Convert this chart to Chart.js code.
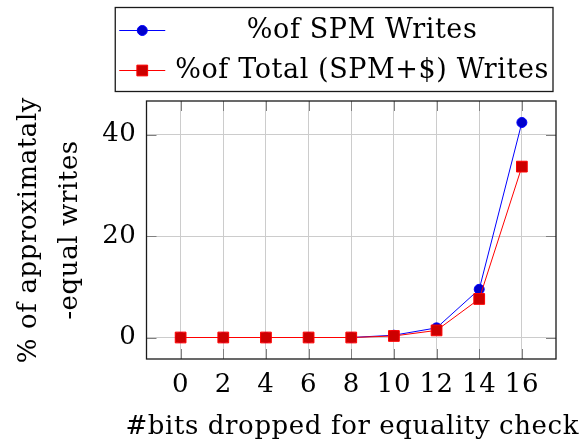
<!DOCTYPE html>
<html>
<head>
<meta charset="utf-8">
<script src="https://cdn.jsdelivr.net/npm/chart.js@4"></script>
<style>
  html, body { margin: 0; padding: 0; background: #fff; }
  canvas { display: block; }
</style>
</head>
<body>
<canvas id="bits_chart" width="579" height="445"></canvas>
<script>
const BITS = [0, 2, 4, 6, 8, 10, 12, 14, 16];
const SPM_WRITES = [0, 0, 0, 0, 0, 0.45, 1.9, 9.5, 42.4];
const TOTAL_WRITES = [0, 0, 0, 0, 0, 0.3, 1.4, 7.6, 33.7];
const Y_TICKS = [0, 20, 40];
const SERIES_LABELS = ['%of SPM Writes', '%of Total (SPM+$) Writes'];
const X_TITLE = '#bits dropped for equality check';
const Y_TITLE = ['% of approximataly', '-equal writes'];

const FONT_FAMILY = "'DejaVu Serif', serif";
const FONT_SIZE = 26;
const LEGEND_SIZE = 27;

const toPoints = (ys) => ys.map((y, i) => ({ x: BITS[i], y: y }));

// slightly looser letters, closer to the TeX look
const wideText = {
  id: 'wideText',
  beforeDraw(chart) {
    chart.ctx.letterSpacing = '0.6px';
  }
};

// x title drawn by hand: Chart.js would squeeze it to the axis width
const xTitle = {
  id: 'xTitle',
  afterDraw(chart) {
    const { ctx, chartArea: a } = chart;
    ctx.save();
    ctx.font = `${FONT_SIZE}px ${FONT_FAMILY}`;
    ctx.fillStyle = '#000';
    ctx.textAlign = 'center';
    ctx.textBaseline = 'middle';
    ctx.fillText(X_TITLE, (a.left + a.right) / 2 + 1, chart.height - 18);
    ctx.restore();
  }
};

// frame + short inward tick marks, like a pgfplots axis box
const frameTicks = {
  id: 'frameTicks',
  beforeDatasetsDraw(chart) {
    const { ctx, chartArea: a, scales } = chart;
    const len = 10;
    ctx.save();
    ctx.strokeStyle = '#808080';
    ctx.lineWidth = 1;
    ctx.beginPath();
    BITS.forEach((v) => {
      const x = Math.round(scales.x.getPixelForValue(v)) + 0.5;
      ctx.moveTo(x, a.bottom); ctx.lineTo(x, a.bottom - len);
      ctx.moveTo(x, a.top); ctx.lineTo(x, a.top + len);
    });
    Y_TICKS.forEach((v) => {
      const y = Math.round(scales.y.getPixelForValue(v)) + 0.5;
      ctx.moveTo(a.left, y); ctx.lineTo(a.left + len, y);
      ctx.moveTo(a.right, y); ctx.lineTo(a.right - len, y);
    });
    ctx.stroke();
    ctx.restore();
  },
  afterDraw(chart) {
    const { ctx, chartArea: a } = chart;
    ctx.save();
    ctx.strokeStyle = '#1a1a1a';
    ctx.lineWidth = 1.3;
    ctx.strokeRect(a.left, a.top, a.right - a.left, a.bottom - a.top);
    ctx.restore();
  }
};

// boxed legend above the plot, text centred in its column
const boxLegend = {
  id: 'boxLegend',
  afterDraw(chart) {
    const { ctx, chartArea: a } = chart;
    const datasets = chart.data.datasets;
    ctx.save();
    ctx.font = `${LEGEND_SIZE}px ${FONT_FAMILY}`;
    const textW = Math.max(...datasets.map((d) => ctx.measureText(d.label).width));
    const sample = 46, gap = 10, pad = 2, rowH = 40;
    const right = a.right - 3;
    const left = right - (pad + sample + gap + textW + pad + 4);
    const top = 7.5;
    const bottom = top + pad * 2 + rowH * datasets.length;
    ctx.fillStyle = '#fff';
    ctx.fillRect(left, top, right - left, bottom - top);
    ctx.strokeStyle = '#1a1a1a';
    ctx.lineWidth = 1.3;
    ctx.strokeRect(left, top, right - left, bottom - top);

    datasets.forEach((d, i) => {
      const cy = top + pad + rowH * i + rowH / 2 + 1;
      const x0 = left + pad + 2;
      ctx.strokeStyle = d.borderColor;
      ctx.lineWidth = 1;
      ctx.beginPath();
      ctx.moveTo(x0, cy); ctx.lineTo(x0 + sample, cy);
      ctx.stroke();
      ctx.fillStyle = d.pointBackgroundColor;
      ctx.strokeStyle = d.pointBorderColor;
      ctx.lineWidth = d.pointBorderWidth;
      ctx.beginPath();
      if (d.pointStyle === 'circle') {
        ctx.arc(x0 + sample / 2, cy, d.pointRadius, 0, Math.PI * 2);
      } else {
        const s = Math.SQRT1_2 * d.pointRadius;
        ctx.rect(x0 + sample / 2 - s, cy - s, 2 * s, 2 * s);
      }
      ctx.fill();
      ctx.stroke();
      ctx.fillStyle = '#000';
      ctx.textAlign = 'center';
      ctx.textBaseline = 'middle';
      ctx.fillText(d.label, x0 + sample + gap + textW / 2, cy);
    });
    ctx.restore();
  }
};

const tickFont = { family: FONT_FAMILY, size: FONT_SIZE };

new Chart(document.getElementById('bits_chart').getContext('2d'), {
  type: 'line',
  data: {
    datasets: [
      {
        label: SERIES_LABELS[0],
        data: toPoints(SPM_WRITES),
        borderColor: '#0000ff',
        borderWidth: 1,
        pointStyle: 'circle',
        pointRadius: 5,
        pointBorderWidth: 1,
        pointBackgroundColor: '#0000cc',
        pointBorderColor: '#0000ff',
        order: 1,
      },
      {
        label: SERIES_LABELS[1],
        data: toPoints(TOTAL_WRITES),
        borderColor: '#ff0000',
        borderWidth: 1,
        pointStyle: 'rect',
        pointRadius: 7.6,
        pointBorderWidth: 1,
        pointBackgroundColor: '#cc0000',
        pointBorderColor: '#ff0000',
        order: 0,
      },
    ],
  },
  options: {
    responsive: false,
    animation: false,
    layout: { padding: { top: 101, right: 23, left: 0, bottom: 0 } },
    plugins: {
      legend: { display: false },
      tooltip: { enabled: false },
    },
    scales: {
      x: {
        type: 'linear',
        min: -1.6,
        max: 17.6,
        afterBuildTicks: (s) => { s.ticks = BITS.map((v) => ({ value: v })); },
        afterFit: (s) => { s.height = 86; },
        ticks: { font: tickFont, color: '#000', padding: 11, maxRotation: 0, autoSkip: false },
        grid: { color: '#cccccc', drawTicks: false },
        border: { display: false },
      },
      y: {
        min: -4.24,
        max: 46.64,
        afterBuildTicks: (s) => { s.ticks = Y_TICKS.map((v) => ({ value: v })); },
        afterFit: (s) => { s.width = 146.5; },
        ticks: { font: tickFont, color: '#000', padding: 10 },
        grid: { color: '#cccccc', drawTicks: false },
        border: { display: false },
        title: {
          display: true,
          text: Y_TITLE,
          font: { family: FONT_FAMILY, size: FONT_SIZE, lineHeight: 1.6 },
          color: '#000',
          padding: { top: 8, bottom: 0 },
        },
      },
    },
  },
  plugins: [wideText, frameTicks, boxLegend, xTitle],
});
</script>
</body>
</html>
